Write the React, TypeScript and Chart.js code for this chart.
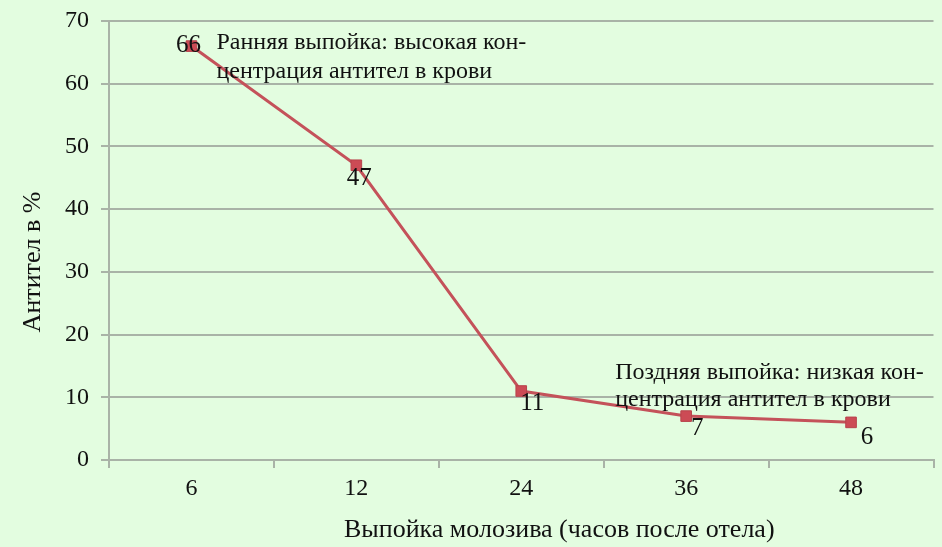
import React, { useEffect, useRef } from "react";
import { Chart, registerables } from "chart.js";

Chart.register(...registerables);

const categories = ["6", "12", "24", "36", "48"];
const antibodies = [66, 47, 11, 7, 6];
const yTicks = [0, 10, 20, 30, 40, 50, 60, 70];
const xTitle = "Выпойка молозива (часов после отела)";
const yTitle = "Антител в %";
const earlyNote = ["Ранняя выпойка: высокая кон-", "центрация антител в крови"];
const lateNote = ["Поздняя выпойка: низкая кон-", "центрация антител в крови"];

const SERIF = "'Liberation Serif', 'Times New Roman', serif";
const LINE = "#c4525a";

const labelOffsets: [number, number][] = [
  [-3, -1],
  [3, 13],
  [11, 12],
  [11, 12],
  [16, 15],
];

const overlay = {
  id: "overlay",
  afterDatasetsDraw(chart: any) {
    const ctx = chart.ctx;
    const meta = chart.getDatasetMeta(0);
    const area = chart.chartArea;
    ctx.save();
    ctx.fillStyle = "#111";
    ctx.textAlign = "center";
    ctx.textBaseline = "middle";
    ctx.font = `25px ${SERIF}`;
    meta.data.forEach((pt: any, i: number) => {
      const [dx, dy] = labelOffsets[i];
      ctx.fillText(String(antibodies[i]), pt.x + dx, pt.y + dy);
    });
    // notes
    ctx.font = `24px ${SERIF}`;
    ctx.textAlign = "left";
    const p0 = meta.data[0];
    earlyNote.forEach((t, i) => ctx.fillText(t, p0.x + 25, p0.y - 3 + i * 29));
    const p3 = meta.data[3];
    lateNote.forEach((t, i) => ctx.fillText(t, p3.x - 71, p3.y - 43 + i * 27));
    // axis titles
    ctx.font = `26px ${SERIF}`;
    ctx.textAlign = "center";
    ctx.fillText(xTitle, (area.left + area.right) / 2 + 38, 530);
    ctx.translate(33, 262);
    ctx.rotate(-Math.PI / 2);
    ctx.fillText(yTitle, 0, 0);
    ctx.restore();
  },
};

export default function App() {
  const ref = useRef<HTMLCanvasElement>(null);
  useEffect(() => {
    document.body.style.margin = "0";
    const chart = new Chart(ref.current!, {
      type: "line",
      data: {
        labels: categories,
        datasets: [
          {
            data: antibodies,
            borderColor: LINE,
            backgroundColor: LINE,
            borderWidth: 3,
            pointStyle: "rect",
            pointRadius: 7.5,
            pointBackgroundColor: "#cc4b55",
            pointBorderColor: "#b8434c",
            pointBorderWidth: 1,
            tension: 0,
          },
        ],
      },
      options: {
        animation: false,
        responsive: false,
        maintainAspectRatio: false,
        layout: { padding: { top: 21, right: 1, left: 25, bottom: 0 } },
        plugins: {
          legend: { display: false },
          tooltip: { enabled: false },
        },
        scales: {
          x: {
            type: "category",
            offset: true,
            grid: {
              offset: true,
              drawOnChartArea: false,
              drawTicks: true,
              tickLength: 8,
              color: "#a9b3a7",
              lineWidth: 2,
            },
            border: { color: "#a9b3a7", width: 2 },
            ticks: {
              color: "#111",
              font: { family: SERIF, size: 24 },
              padding: 6,
            },
            afterFit(scale: any) {
              scale.height = 87;
              scale.paddingLeft = 0;
              scale.paddingRight = 0;
            },
          },
          y: {
            min: 0,
            max: 70,
            afterBuildTicks(scale: any) {
              scale.ticks = yTicks.map((v) => ({ value: v }));
            },
            grid: {
              color: "#a9b3a7",
              lineWidth: 2,
              drawTicks: true,
              tickLength: 8,
            },
            border: { color: "#a9b3a7", width: 2 },
            ticks: {
              color: "#111",
              font: { family: SERIF, size: 24 },
              padding: 12,
            },
            afterFit(scale: any) {
              scale.width = 84;
              scale.paddingTop = 0;
              scale.paddingBottom = 0;
            },
          },
        },
      },
      plugins: [overlay],
    });
    return () => chart.destroy();
  }, []);
  return (
    <div style={{ width: 942, height: 547, background: "#e3fde0", position: "relative" }}>
      <canvas ref={ref} width={942} height={547} style={{ display: "block" }} />
    </div>
  );
}
